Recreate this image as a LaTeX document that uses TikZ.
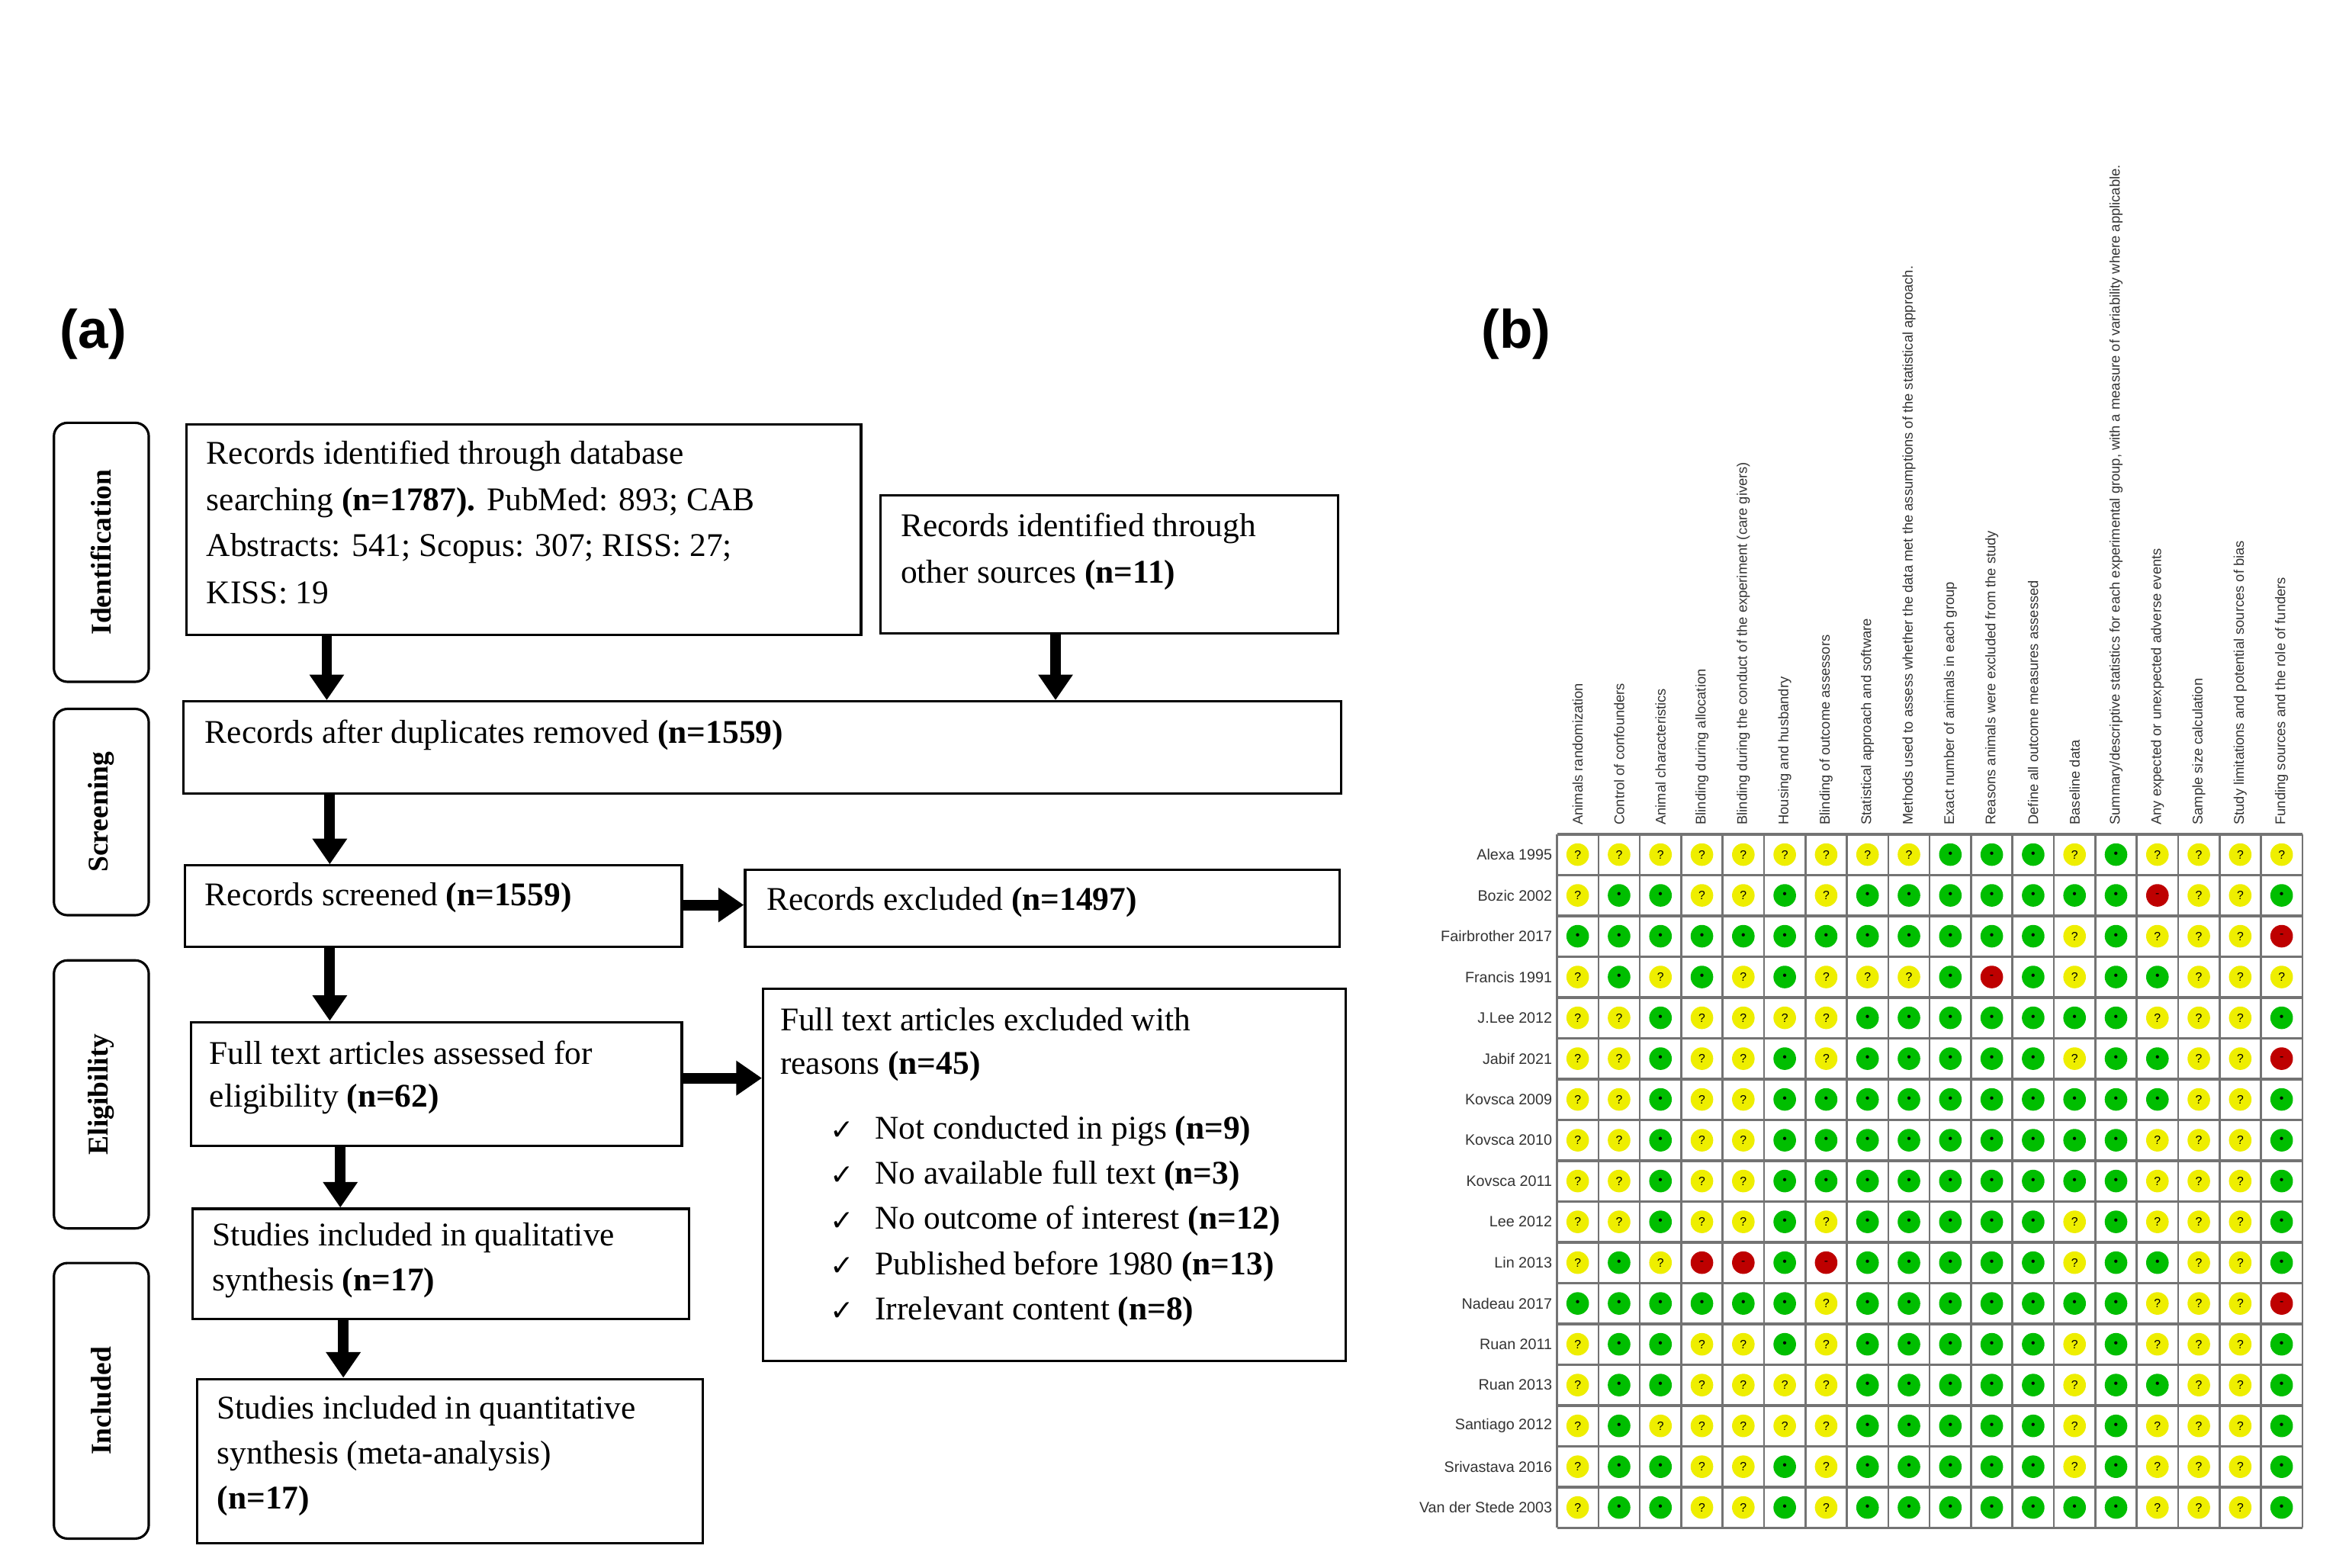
\documentclass[tikz,border=0pt]{standalone}
\usepackage{fontspec}
\setmainfont{Liberation Serif}
\newfontfamily\sansf{Liberation Sans}
\newfontfamily\symf{DejaVu Sans}
\usetikzlibrary{arrows.meta}
\definecolor{dY}{RGB}{238,238,0}
\definecolor{dG}{RGB}{0,190,0}
\definecolor{dR}{RGB}{190,0,0}
\newcommand\symY{?}
\newcommand\symG{\textbullet}
\newcommand\symR{-}
\tikzset{
 box/.style={draw,line width=1.6pt,anchor=north west,inner sep=0},
 stage/.style={draw,line width=1.6pt,rounded corners=9pt,anchor=north west,inner sep=0},
 stxt/.style={rotate=90,font=\fontsize{19}{19}\selectfont\bfseries},
 txt/.style={anchor=west,inner sep=0,font=\fontsize{22}{26}\selectfont},
 arr/.style={line width=7pt,-{Triangle[length=17pt,width=22pt]}},
 lab/.style={font=\sansf\bfseries\fontsize{36}{36}\selectfont},
 rowl/.style={anchor=east,inner sep=0,font=\sansf\fontsize{10}{10}\selectfont,text=black!80},
 coll/.style={anchor=west,rotate=90,inner sep=0,font=\sansf\fontsize{9.3}{9.3}\selectfont,text=black!80},
 dot/.style={circle,minimum size=15pt,inner sep=0,font=\sansf\fontsize{8}{8}\selectfont},
}
\begin{document}
\begin{tikzpicture}[x=1pt,y=-1pt]
\useasboundingbox (0,0) rectangle (1560,1041);
\node[lab] (la) at (62,222) {(a)};
\node[lab] (lb) at (1007,222) {(b)};
% stages
\node[stage,minimum width=63pt,minimum height=172pt] (s1) at (35,280) {};
\node[stxt] at (s1.center) {Identification};
\node[stage,minimum width=63pt,minimum height=137pt] (s2) at (35,470) {};
\node[stxt] at (s2.center) {Screening};
\node[stage,minimum width=63pt,minimum height=178pt] (s3) at (35,637) {};
\node[stxt] at (s3.center) {Eligibility};
\node[stage,minimum width=63pt,minimum height=183pt] (s4) at (35,838) {};
\node[stxt] at (s4.center) {Included};
% boxes
\node[box,minimum width=448pt,minimum height=140pt] (b1) at (123,281) {};
\node[txt] (t11) at (137,303) {Records identified through database};
\node[txt] (t12) at (137,334) {searching \textbf{(n=1787).} PubMed: 893; CAB};
\node[txt] (t13) at (137,364) {Abstracts: 541; Scopus: 307; RISS: 27;};
\node[txt] (t14) at (137,394) {KISS: 19};
\node[box,minimum width=304pt,minimum height=92pt] (b2) at (584,328) {};
\node[txt] (t21) at (598,351) {Records identified through};
\node[txt] (t22) at (598,382) {other sources \textbf{(n=11)}};
\node[box,minimum width=769pt,minimum height=61pt] (b3) at (121,465) {};
\node[txt] (t31) at (136,488) {Records after duplicates removed \textbf{(n=1559)}};
\node[box,minimum width=330pt,minimum height=54pt] (b4) at (122,574) {};
\node[txt] (t41) at (136,596) {Records screened \textbf{(n=1559)}};
\node[box,minimum width=395pt,minimum height=51pt] (b5) at (494,577) {};
\node[txt] (t51) at (509,599) {Records excluded \textbf{(n=1497)}};
\node[box,minimum width=326pt,minimum height=82pt] (b6) at (126,678) {};
\node[txt] (t61) at (139,699) {Full text articles assessed for};
\node[txt] (t62) at (139,730) {eligibility \textbf{(n=62)}};
\node[box,minimum width=387pt,minimum height=247pt] (b7) at (506,656) {};
\node[txt] (t71) at (518,677) {Full text articles excluded with};
\node[txt] (t72) at (518,708) {reasons \textbf{(n=45)}};
\foreach \y/\t [count=\i] in {751/{Not conducted in pigs \textbf{(n=9)}},781/{No available full text \textbf{(n=3)}},811/{No outcome of interest \textbf{(n=12)}},841/{Published before 1980 \textbf{(n=13)}},871/{Irrelevant content \textbf{(n=8)}}}{
 \node[txt,font=\symf\fontsize{19}{19}\selectfont] (ck\i) at (551,\y) {✓};
 \node[txt] (it\i) at (581,\y) {\t};
}
\node[box,minimum width=330pt,minimum height=73pt] (b8) at (127,802) {};
\node[txt] (t81) at (141,822) {Studies included in qualitative};
\node[txt] (t82) at (141,852) {synthesis \textbf{(n=17)}};
\node[box,minimum width=336pt,minimum height=109pt] (b9) at (130,915) {};
\node[txt] (t91) at (144,937) {Studies included in quantitative};
\node[txt] (t92) at (144,967) {synthesis (meta-analysis)};
\node[txt] (t93) at (144,997) {\textbf{(n=17)}};
% arrows
\draw[arr] (b1.south west -| 217,0) -- (b3.north west -| 217,0);
\draw[arr] (b2.south west -| 701,0) -- (b3.north west -| 701,0);
\draw[arr] (b3.south west -| 219,0) -- (b4.north west -| 219,0);
\draw[arr] (b4.east |- 0,601) -- (b5.west |- 0,601);
\draw[arr] (b4.south west -| 219,0) -- (b6.north west -| 219,0);
\draw[arr] (b6.east |- 0,716) -- (b7.west |- 0,716);
\draw[arr] (b6.south west -| 226,0) -- (b8.north west -| 226,0);
\draw[arr] (b8.south west -| 228,0) -- (b9.north west -| 228,0);
% grid
\def\gx{1034}\def\gy{554}\def\cw{27.5}\def\rh{27.1}
\foreach \i in {0,...,18}
 \draw[black!55,line width=1.3pt] ({\gx+\i*\cw},\gy) -- ({\gx+\i*\cw},{\gy+17*\rh});
\foreach \j in {0,...,17}
 \draw[black!55,line width=1.8pt] (\gx,{\gy+\j*\rh}) -- ({\gx+18*\cw},{\gy+\j*\rh});
\foreach \t [count=\i] in {Animals randomization,Control of confounders,Animal characteristics,Blinding during allocation,Blinding during the conduct of the experiment (care givers),Housing and husbandry,Blinding of outcome assessors,Statistical approach and software,Methods used to assess whether the data met the assumptions of the statistical approach.,Exact number of animals in each group,Reasons animals were excluded from the study,Define all outcome measures assessed,Baseline data,{Summary/descriptive statistics for each experimental group, with a measure of variability where applicable.},Any expected or unexpected adverse events,Sample size calculation,Study limitations and potential sources of bias,Funding sources and the role of funders}
 \node[coll] (c\i) at ({\gx+(\i-0.5)*\cw},548) {\t};
\foreach \n/\v [count=\r] in {
{Alexa 1995}/{Y,Y,Y,Y,Y,Y,Y,Y,Y,G,G,G,Y,G,Y,Y,Y,Y},
{Bozic 2002}/{Y,G,G,Y,Y,G,Y,G,G,G,G,G,G,G,R,Y,Y,G},
{Fairbrother 2017}/{G,G,G,G,G,G,G,G,G,G,G,G,Y,G,Y,Y,Y,R},
{Francis 1991}/{Y,G,Y,G,Y,G,Y,Y,Y,G,R,G,Y,G,G,Y,Y,Y},
{J.Lee 2012}/{Y,Y,G,Y,Y,Y,Y,G,G,G,G,G,G,G,Y,Y,Y,G},
{Jabif 2021}/{Y,Y,G,Y,Y,G,Y,G,G,G,G,G,Y,G,G,Y,Y,R},
{Kovsca 2009}/{Y,Y,G,Y,Y,G,G,G,G,G,G,G,G,G,G,Y,Y,G},
{Kovsca 2010}/{Y,Y,G,Y,Y,G,G,G,G,G,G,G,G,G,Y,Y,Y,G},
{Kovsca 2011}/{Y,Y,G,Y,Y,G,G,G,G,G,G,G,G,G,Y,Y,Y,G},
{Lee 2012}/{Y,Y,G,Y,Y,G,Y,G,G,G,G,G,Y,G,Y,Y,Y,G},
{Lin 2013}/{Y,G,Y,R,R,G,R,G,G,G,G,G,Y,G,G,Y,Y,G},
{Nadeau 2017}/{G,G,G,G,G,G,Y,G,G,G,G,G,G,G,Y,Y,Y,R},
{Ruan 2011}/{Y,G,G,Y,Y,G,Y,G,G,G,G,G,Y,G,Y,Y,Y,G},
{Ruan 2013}/{Y,G,G,Y,Y,Y,Y,G,G,G,G,G,Y,G,G,Y,Y,G},
{Santiago 2012}/{Y,G,Y,Y,Y,Y,Y,G,G,G,G,G,Y,G,Y,Y,Y,G},
{Srivastava 2016}/{Y,G,G,Y,Y,G,Y,G,G,G,G,G,Y,G,Y,Y,Y,G},
{Van der Stede 2003}/{Y,G,G,Y,Y,G,Y,G,G,G,G,G,G,G,Y,Y,Y,G}}{
 \node[rowl] (r\r) at (1031,{\gy+(\r-0.5)*\rh}) {\n};
 \foreach \c [count=\k] in \v
  \node[dot,fill=d\c] (d\r-\k) at ({\gx+(\k-0.5)*\cw},{\gy+(\r-0.5)*\rh}) {\csname sym\c\endcsname};
}
\end{tikzpicture}
\end{document}
